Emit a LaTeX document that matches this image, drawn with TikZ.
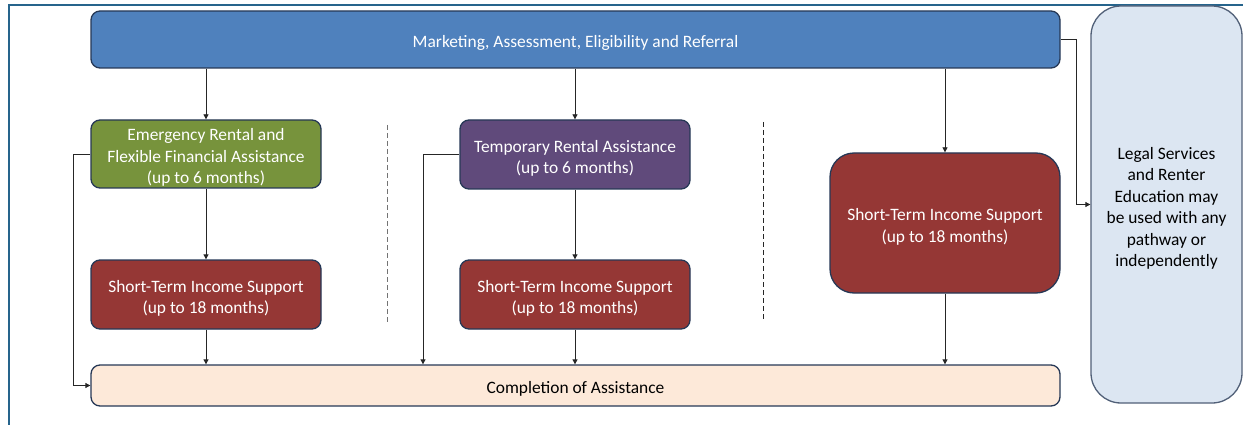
\documentclass[tikz,border=0pt]{standalone}
\usepackage{fontspec}
\setmainfont{Carlito}
\usetikzlibrary{arrows.meta}
\definecolor{frameblue}{RGB}{38,100,140}
\definecolor{topblue}{RGB}{79,129,189}
\definecolor{navy}{RGB}{38,56,86}
\definecolor{olive}{RGB}{119,147,60}
\definecolor{plum}{RGB}{96,74,123}
\definecolor{brick}{RGB}{149,55,53}
\definecolor{peach}{RGB}{253,233,217}
\definecolor{paleblue}{RGB}{220,230,242}
% tall first-line strut: lowers the text block a little inside each box
\newcommand\firststrut{\rule{0pt}{19.5pt}}
\begin{document}
\begin{tikzpicture}[x=1pt,y=-1pt,
  box/.style={draw=navy, line width=1.3pt, rounded corners=9pt, align=center,
    inner sep=0pt, text=white, font=\fontsize{17.4}{21.5}\selectfont},
  arr/.style={draw=black!85, line width=0.8pt, -{Triangle[length=5pt,width=5pt]}},
  sep/.style={line width=0.9pt, dash pattern=on 5pt off 3pt}]
\useasboundingbox (0,0) rectangle (1243,425);
% outer frame (top and left edges only)
\draw[frameblue, line width=2pt] (9,425) -- (9,5) -- (1243,5);

% nodes
\node[box, fill=topblue, minimum width=969pt, minimum height=57pt] (top) at (575.5,39.5)
  {\firststrut Marketing, Assessment, Eligibility and Referral};
\node[box, fill=olive, minimum width=230pt, minimum height=68pt] (green) at (206,154)
  {\firststrut Emergency Rental and\\Flexible Financial Assistance\\(up to 6 months)};
\node[box, fill=plum, minimum width=230pt, minimum height=69pt] (purple) at (575,154.5)
  {\firststrut Temporary Rental Assistance\\(up to 6 months)};
\node[box, fill=brick, minimum width=230pt, minimum height=69pt] (redL) at (206,294.5)
  {\firststrut Short-Term Income Support\\(up to 18 months)};
\node[box, fill=brick, minimum width=230pt, minimum height=69pt] (redM) at (575,294.5)
  {\firststrut Short-Term Income Support\\(up to 18 months)};
\node[box, fill=brick, rounded corners=24pt, minimum width=230pt, minimum height=140pt] (redR) at (945,223)
  {\firststrut Short-Term Income Support\\(up to 18 months)};
\node[box, fill=peach, text=black, minimum width=969pt, minimum height=41pt] (comp) at (575.5,385.5)
  {\firststrut Completion of Assistance};
\node[box, fill=paleblue, draw=navy!80, text=black, rounded corners=30pt, minimum width=151pt, minimum height=397pt] (legal) at (1166.5,204.5)
  {\firststrut Legal Services\\and Renter\\Education may\\be used with any\\pathway or\\independently};

% pathway separators
\draw[sep, draw=black!55] (387,125) -- (387,322);
\draw[sep, draw=black!85] (763,122) -- (763,320);

% connectors
\draw[arr] (green.north |- top.south) -- (green.north);
\draw[arr] (purple.north |- top.south) -- (purple.north);
\draw[arr] (redR.north |- top.south) -- (redR.north);
\draw[arr] (green.south) -- (redL.north);
\draw[arr] (purple.south) -- (redM.north);
\draw[arr] (redL.south) -- (redL.south |- comp.north);
\draw[arr] (redM.south) -- (redM.south |- comp.north);
\draw[arr] (redR.south) -- (redR.south |- comp.north);
\coordinate (lb) at (73,154);
\draw[arr] (green.west) -- (lb) |- (comp.west);
\coordinate (mb) at (423,154.5);
\draw[arr] (purple.west) -- (mb) -- (mb |- comp.north);
\coordinate (rb) at (1076,39.5);
\draw[arr] (top.east) -- (rb) |- (legal.west);
\end{tikzpicture}
\end{document}
